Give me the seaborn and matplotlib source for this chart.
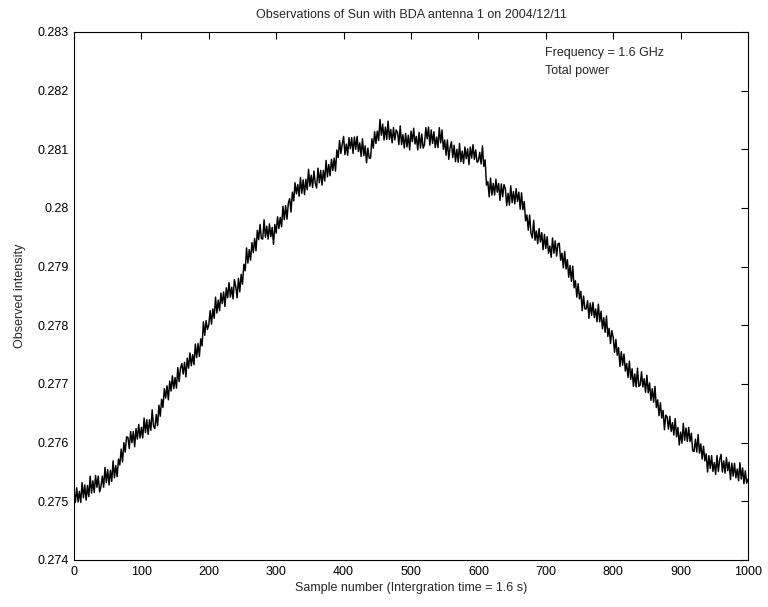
"""
Sun observation with BDA antenna 1 - total power at 1.6 GHz
"""

import numpy as np
import pandas as pd
import matplotlib
matplotlib.use('Agg')
import matplotlib.pyplot as plt
import seaborn as sns

# Sample numbers (every 2nd sample)
sample_number = np.arange(0, 1001, 2)

# Observed intensity (20 values = 40 samples per row)
observed_intensity = [
    0.27517, 0.27498, 0.27523, 0.27499, 0.27517, 0.27498, 0.27532, 0.27506, 0.27528, 0.27502, 0.27527, 0.27508, 0.27543, 0.27514, 0.27535, 0.27515, 0.27544, 0.27524, 0.27543, 0.27516,
    0.27525, 0.27543, 0.27524, 0.27558, 0.27532, 0.27554, 0.27528, 0.27553, 0.27534, 0.27569, 0.27540, 0.27561, 0.27542, 0.27572, 0.27562, 0.27589, 0.27567, 0.27600, 0.27584, 0.27610,
    0.27609, 0.27590, 0.27619, 0.27600, 0.27619, 0.27593, 0.27624, 0.27606, 0.27631, 0.27608, 0.27626, 0.27608, 0.27642, 0.27617, 0.27639, 0.27614, 0.27639, 0.27621, 0.27656, 0.27628,
    0.27624, 0.27648, 0.27629, 0.27664, 0.27645, 0.27674, 0.27660, 0.27692, 0.27676, 0.27697, 0.27673, 0.27705, 0.27688, 0.27714, 0.27692, 0.27711, 0.27693, 0.27728, 0.27704, 0.27727,
    0.27735, 0.27717, 0.27737, 0.27712, 0.27744, 0.27727, 0.27753, 0.27731, 0.27750, 0.27733, 0.27768, 0.27745, 0.27769, 0.27747, 0.27777, 0.27765, 0.27806, 0.27783, 0.27808, 0.27793,
    0.27801, 0.27825, 0.27802, 0.27828, 0.27812, 0.27848, 0.27821, 0.27843, 0.27825, 0.27855, 0.27837, 0.27857, 0.27832, 0.27864, 0.27847, 0.27873, 0.27848, 0.27865, 0.27845, 0.27878,
    0.27866, 0.27847, 0.27880, 0.27857, 0.27887, 0.27870, 0.27904, 0.27893, 0.27932, 0.27906, 0.27929, 0.27911, 0.27941, 0.27924, 0.27948, 0.27927, 0.27962, 0.27946, 0.27972, 0.27948,
    0.27947, 0.27980, 0.27950, 0.27969, 0.27947, 0.27973, 0.27951, 0.27967, 0.27938, 0.27972, 0.27957, 0.27985, 0.27965, 0.27984, 0.27968, 0.28003, 0.27980, 0.28004, 0.27981, 0.28008,
    0.28016, 0.27993, 0.28027, 0.28012, 0.28043, 0.28024, 0.28040, 0.28020, 0.28052, 0.28025, 0.28048, 0.28023, 0.28049, 0.28031, 0.28066, 0.28037, 0.28056, 0.28035, 0.28063, 0.28042,
    0.28034, 0.28068, 0.28043, 0.28064, 0.28039, 0.28064, 0.28046, 0.28081, 0.28053, 0.28074, 0.28055, 0.28083, 0.28064, 0.28085, 0.28063, 0.28099, 0.28086, 0.28115, 0.28093, 0.28109,
    0.28122, 0.28091, 0.28109, 0.28090, 0.28120, 0.28101, 0.28120, 0.28093, 0.28121, 0.28100, 0.28122, 0.28096, 0.28111, 0.28088, 0.28118, 0.28089, 0.28106, 0.28077, 0.28102, 0.28085,
    0.28085, 0.28118, 0.28102, 0.28130, 0.28110, 0.28131, 0.28115, 0.28151, 0.28124, 0.28143, 0.28116, 0.28138, 0.28117, 0.28148, 0.28117, 0.28134, 0.28111, 0.28137, 0.28116, 0.28133,
    0.28129, 0.28108, 0.28140, 0.28108, 0.28125, 0.28102, 0.28127, 0.28104, 0.28124, 0.28099, 0.28131, 0.28113, 0.28136, 0.28109, 0.28122, 0.28099, 0.28129, 0.28102, 0.28126, 0.28102,
    0.28108, 0.28137, 0.28118, 0.28138, 0.28107, 0.28133, 0.28110, 0.28130, 0.28103, 0.28121, 0.28103, 0.28137, 0.28111, 0.28133, 0.28100, 0.28116, 0.28090, 0.28116, 0.28083, 0.28103,
    0.28113, 0.28086, 0.28107, 0.28079, 0.28100, 0.28078, 0.28110, 0.28079, 0.28097, 0.28076, 0.28104, 0.28084, 0.28101, 0.28074, 0.28104, 0.28085, 0.28108, 0.28083, 0.28099, 0.28078,
    0.28080, 0.28095, 0.28075, 0.28106, 0.28071, 0.28082, 0.28039, 0.28045, 0.28019, 0.28051, 0.28022, 0.28042, 0.28022, 0.28049, 0.28027, 0.28042, 0.28013, 0.28041, 0.28019, 0.28040,
    0.28033, 0.28004, 0.28025, 0.28005, 0.28038, 0.28009, 0.28028, 0.28007, 0.28033, 0.28011, 0.28027, 0.27998, 0.28026, 0.27997, 0.28011, 0.27978, 0.27988, 0.27962, 0.27988, 0.27957,
    0.27949, 0.27979, 0.27945, 0.27961, 0.27939, 0.27965, 0.27942, 0.27958, 0.27929, 0.27955, 0.27931, 0.27951, 0.27923, 0.27935, 0.27916, 0.27949, 0.27923, 0.27944, 0.27918, 0.27939,
    0.27940, 0.27911, 0.27923, 0.27898, 0.27926, 0.27896, 0.27912, 0.27882, 0.27902, 0.27875, 0.27901, 0.27864, 0.27876, 0.27848, 0.27871, 0.27845, 0.27858, 0.27825, 0.27850, 0.27828,
    0.27828, 0.27842, 0.27812, 0.27838, 0.27817, 0.27839, 0.27813, 0.27828, 0.27806, 0.27836, 0.27806, 0.27824, 0.27794, 0.27813, 0.27788, 0.27816, 0.27781, 0.27795, 0.27769, 0.27791,
    0.27780, 0.27754, 0.27776, 0.27749, 0.27762, 0.27730, 0.27755, 0.27732, 0.27751, 0.27722, 0.27735, 0.27711, 0.27739, 0.27708, 0.27726, 0.27696, 0.27717, 0.27695, 0.27727, 0.27696,
    0.27698, 0.27721, 0.27695, 0.27709, 0.27686, 0.27715, 0.27685, 0.27702, 0.27672, 0.27692, 0.27669, 0.27696, 0.27660, 0.27673, 0.27646, 0.27668, 0.27642, 0.27655, 0.27622, 0.27647,
    0.27644, 0.27623, 0.27645, 0.27619, 0.27634, 0.27613, 0.27641, 0.27610, 0.27626, 0.27596, 0.27618, 0.27599, 0.27633, 0.27604, 0.27625, 0.27602, 0.27626, 0.27602, 0.27616, 0.27586,
    0.27585, 0.27606, 0.27584, 0.27614, 0.27582, 0.27598, 0.27572, 0.27594, 0.27569, 0.27581, 0.27550, 0.27578, 0.27556, 0.27578, 0.27551, 0.27566, 0.27546, 0.27578, 0.27551, 0.27571,
    0.27580, 0.27550, 0.27569, 0.27548, 0.27575, 0.27552, 0.27567, 0.27537, 0.27565, 0.27543, 0.27565, 0.27540, 0.27555, 0.27535, 0.27566, 0.27538, 0.27557, 0.27530, 0.27552, 0.27531,
    0.27538,
]

x_ticks = [0, 100, 200, 300, 400, 500, 600, 700, 800, 900, 1000]
y_ticks = [0.274, 0.275, 0.276, 0.277, 0.278, 0.279, 0.28, 0.281, 0.282, 0.283]
y_tick_labels = ['0.274', '0.275', '0.276', '0.277', '0.278', '0.279', '0.28', '0.281', '0.282', '0.283']

df = pd.DataFrame({'sample': sample_number, 'intensity': observed_intensity})

sns.set_style('white')
plt.rcParams['font.family'] = ['Liberation Sans', 'DejaVu Sans']
plt.rcParams['font.size'] = 9

fig = plt.figure(figsize=(7.68, 6.07), dpi=100)
ax = fig.add_axes([74 / 768, 47 / 607, 674 / 768, 528 / 607])

sns.lineplot(data=df, x='sample', y='intensity', color='black', linewidth=1.05, ax=ax)

ax.set_xlim(0, 1000)
ax.set_ylim(0.274, 0.283)
ax.set_xticks(x_ticks)
ax.set_yticks(y_ticks)
ax.set_yticklabels(y_tick_labels)
ax.tick_params(direction='in', top=True, right=True, length=5, width=0.8,
               labelsize=9, pad=4, colors='black')
for side in ax.spines.values():
    side.set_color('black')
    side.set_linewidth(0.8)

ax.set_title('Observations of Sun with BDA antenna 1 on 2004/12/11', fontsize=9, pad=10)
ax.set_xlabel('Sample number (Intergration time = 1.6 s)', fontsize=9, labelpad=3)
ax.set_ylabel('Observed intensity', fontsize=9, labelpad=8)

ax.text(699, 0.28265, 'Frequency = 1.6 GHz', fontsize=9, va='center')
ax.text(699, 0.28234, 'Total power', fontsize=9, va='center')

fig.savefig('out.png', dpi=100)
